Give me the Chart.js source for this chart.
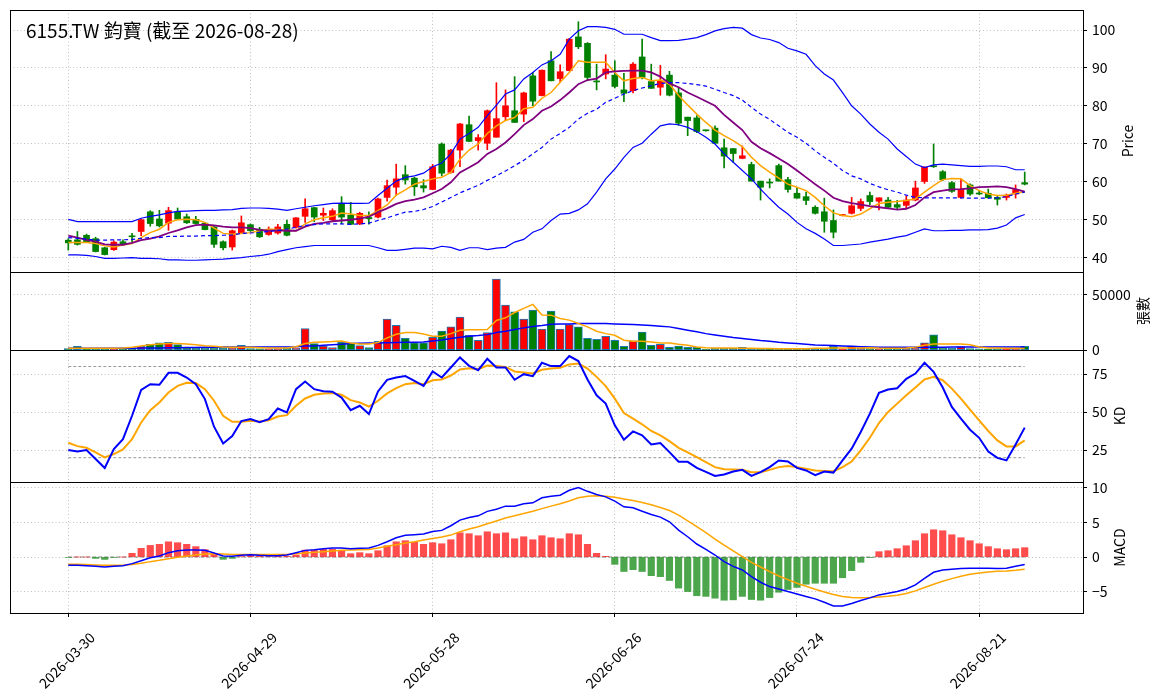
<!DOCTYPE html>
<html>
<head>
<meta charset="utf-8">
<script src="https://cdn.jsdelivr.net/npm/chart.js@4.4.1/dist/chart.umd.min.js"></script>
<style>
  html, body { margin: 0; padding: 0; background: #fff; }
  #wrap { width: 1163px; height: 698px; }
</style>
</head>
<body>
<div id="wrap"><canvas id="chart" width="1163" height="698"></canvas></div>
<script>
"use strict";

const chartTitle = "6155.TW 鈞寶 (截至 2026-08-28)";
const panelTitles = ["Price", "張數", "KD", "MACD"];

// x ticks: trading-day index -> date label
const tickPositions = [0, 20, 40, 60, 80, 100];
const tickDates = ["2026-03-30", "2026-04-29", "2026-05-28", "2026-06-26", "2026-07-24", "2026-08-21"];

const priceTicks = [40, 50, 60, 70, 80, 90, 100];
const volumeTicks = [0, 50000];
const kdTicks = [25, 50, 75];
const macdTicks = [-5, 0, 5, 10];
const kdLevels = [80, 20];

// daily candles
const opens = [44.5,44.6,45.8,44.9,42.5,42.0,44.1,45.5,46.8,52.0, 50.1,49.0,52.0,50.7,50.0,49.0,48.0,44.1,42.7,46.5,
  48.6,47.4,46.0,46.4,48.7,47.9,50.8,53.1,51.1,49.9, 54.2,51.1,48.8,50.5,50.6,55.8,58.5,61.8,60.9,58.9,
  57.9,69.9,62.4,68.3,75.0,70.8,70.1,71.7,77.1,78.7, 77.8,87.9,82.7,91.9,87.2,89.3,98.2,96.5,86.4,88.4,
  88.1,84.2,84.0,92.9,86.4,84.9,88.1,83.4,77.0,76.8, 73.5,74.1,68.9,68.7,66.1,64.5,60.1,59.7,64.2,60.5,
  56.9,56.0,53.2,52.0,49.7,51.0,51.6,52.9,56.3,54.8, 55.1,53.9,53.7,55.1,60.0,64.0,62.6,59.7,55.8,59.1,
  56.8,56.9,55.8,55.8,56.7,59.7];
const highs = [44.9,46.8,46.1,45.3,42.6,44.3,44.6,46.3,50.1,52.3, 52.4,53.2,53.0,51.4,50.8,49.2,48.2,44.3,47.2,50.9,
  48.8,47.9,48.0,48.7,49.8,50.5,55.4,53.2,53.0,52.8, 56.0,54.5,51.9,52.0,55.6,60.4,64.6,64.2,61.1,60.5,
  64.5,70.2,68.5,75.4,77.3,72.4,78.9,86.1,84.2,87.7, 83.6,88.8,89.5,94.3,90.8,97.8,102.2,96.7,91.0,93.5,
  91.9,88.6,91.4,97.6,91.0,90.7,89.1,84.7,77.0,77.4, 73.6,74.7,71.2,68.7,69.4,65.1,60.1,60.7,64.6,61.1,
  58.3,57.2,53.6,55.6,52.5,51.3,55.8,55.4,57.2,55.7, 55.8,55.0,56.2,60.1,63.9,69.9,62.9,60.0,60.7,59.4,
  57.6,58.0,56.1,56.7,59.1,62.5];
const lows = [41.9,43.2,43.9,41.4,40.6,41.8,43.2,44.1,45.7,48.2, 48.0,47.1,49.9,48.9,48.7,47.2,42.6,41.9,41.9,46.3,
  46.8,45.2,45.8,46.1,45.6,47.7,49.2,49.4,49.7,49.4, 48.8,48.6,48.6,48.7,50.4,54.8,56.4,59.3,56.3,57.2,
  57.8,61.5,62.2,63.9,70.5,68.3,68.4,71.7,76.1,75.6, 75.8,80.0,82.6,86.6,86.2,89.2,95.1,86.6,84.2,87.1,
  84.7,81.1,83.4,87.1,84.6,82.8,82.6,74.8,72.1,72.9, 73.3,70.1,63.6,65.0,66.0,60.1,55.1,58.3,60.1,57.2,
  55.6,53.9,51.4,46.6,45.1,50.9,51.4,52.3,53.9,52.5, 53.0,52.8,52.9,54.9,59.5,63.7,60.2,57.1,55.6,56.3,
  56.5,55.6,53.8,55.1,55.6,59.1];
const closes = [43.8,43.4,44.1,41.5,40.7,44.0,43.4,45.4,49.9,48.9, 48.3,52.3,50.1,49.1,48.9,47.3,43.4,42.5,47.0,49.1,
  47.0,45.4,47.4,48.0,45.8,50.4,52.8,50.6,51.6,52.3, 50.6,48.7,51.6,50.2,55.4,58.9,60.7,60.4,58.6,58.3,
  63.9,62.2,68.3,75.2,70.6,71.6,78.7,76.6,80.0,75.6, 83.4,81.2,89.4,86.6,89.0,97.6,95.6,87.5,86.3,89.7,
  85.1,83.3,91.0,87.5,84.6,86.6,82.8,75.4,76.1,73.2, 73.4,70.1,66.7,67.4,66.8,60.1,58.5,59.6,60.1,57.9,
  55.6,55.0,51.6,49.5,46.6,51.2,53.6,54.7,54.7,55.7, 53.2,53.2,55.1,58.3,63.8,63.9,60.5,57.4,57.9,56.7,
  56.7,55.7,55.3,56.4,57.9,59.3];

// price overlays
const ma5 = [43.9,43.9,43.9,43.6,43.0,42.7,43.2,43.6,45.2,46.5, 47.4,49.2,49.9,50.0,49.9,49.2,47.7,46.3,46.1,46.3,
  46.5,47.0,47.4,47.3,47.2,47.0,48.8,49.9,50.4,50.8, 51.7,51.4,51.0,51.0,52.3,53.8,56.4,57.8,59.3,60.0,
  60.7,61.1,62.4,65.9,68.3,69.9,72.7,74.7,76.1,76.9, 79.2,79.6,82.0,83.5,86.2,88.8,91.9,91.5,91.5,91.5,
  88.8,86.6,87.2,87.5,86.6,86.8,85.7,82.7,80.2,77.8, 75.6,73.6,72.1,70.8,69.2,66.4,64.2,62.5,60.9,59.3,
  58.5,57.6,55.8,53.6,51.7,51.0,50.7,51.4,52.8,54.2, 54.5,54.7,55.0,55.4,57.2,58.9,60.5,60.8,60.7,58.9,
  57.6,56.7,56.3,56.4,56.9,57.3];
const ma10 = [45.7,45.2,44.6,44.1,43.4,43.3,43.3,43.8,44.5,44.9, 45.5,46.4,47.1,47.9,48.5,48.6,48.4,48.1,47.9,47.9,
  47.7,47.2,47.0,47.1,47.0,47.0,48.1,48.8,49.1,49.5, 49.7,49.9,50.2,50.7,51.9,52.9,54.1,54.8,55.2,55.8,
  56.9,58.0,59.8,62.4,63.7,65.1,67.3,68.6,70.3,72.5, 74.9,76.5,78.7,79.8,81.5,83.5,85.7,86.8,87.2,88.8,
  89.1,89.2,89.3,89.3,88.8,87.7,85.9,84.9,83.5,82.4, 81.2,80.0,77.6,75.6,73.6,70.5,68.8,67.5,66.1,64.6,
  62.9,61.1,59.3,57.6,55.7,54.8,54.3,53.9,53.5,53.2, 52.9,52.6,52.8,53.8,55.8,57.2,57.6,57.9,58.0,58.2,
  58.5,58.6,58.7,58.5,58.0,57.3];
const ma20 = [45.2,45.0,44.8,44.5,44.5,44.6,44.6,44.7,45.0,45.2, 45.2,45.5,45.5,45.6,45.6,45.7,45.7,45.8,45.9,46.3,
  46.4,46.6,46.8,47.1,47.4,47.9,48.4,48.6,48.8,48.8, 48.8,48.7,48.8,49.0,49.7,50.4,51.2,51.9,52.1,52.6,
  53.4,54.6,55.8,57.0,58.0,59.0,60.3,61.5,62.8,64.2, 65.6,67.3,69.0,71.2,72.7,74.3,76.5,78.0,79.1,80.9,
  82.0,83.1,84.0,84.7,85.3,85.9,86.1,86.1,85.9,85.6, 85.2,84.4,83.5,82.7,81.5,79.6,77.8,76.4,74.7,73.0,
  71.7,70.1,68.1,66.4,64.8,62.9,61.5,60.7,59.5,58.6, 57.8,57.2,56.4,55.8,55.7,55.7,55.7,55.7,55.7,55.6,
  55.6,55.6,55.7,56.0,56.7,57.2];
const bbUpper = [50.0,49.4,49.4,49.4,49.4,49.4,49.4,49.4,50.3,50.8, 51.2,51.7,52.1,52.2,52.3,52.4,52.4,52.5,52.6,52.9,
  53.0,53.0,52.9,52.7,52.4,52.8,53.2,53.6,53.9,54.2, 54.3,54.2,54.2,54.3,56.3,58.2,60.1,61.1,61.5,62.2,
  63.9,64.9,67.3,71.2,72.7,74.3,77.4,80.2,83.1,84.2, 87.1,88.8,90.8,91.9,93.6,97.6,99.8,100.9,100.9,100.7,
  100.2,98.9,98.9,98.9,98.0,97.2,97.2,97.3,97.6,98.0, 98.8,99.8,100.4,100.7,100.5,98.8,97.9,97.5,96.7,95.2,
  94.5,93.6,90.6,88.4,86.8,83.5,80.0,77.8,75.2,73.0, 71.2,68.6,66.6,64.6,63.7,64.4,64.6,64.4,64.2,64.0,
  64.0,64.1,64.1,63.9,63.1,63.1];
const bbLower = [40.6,40.6,40.5,40.2,39.7,39.7,39.8,39.9,39.7,39.7, 39.6,39.3,39.3,39.2,39.2,39.3,39.4,39.5,39.7,39.9,
  40.2,40.4,40.8,41.5,42.0,42.5,42.8,43.1,43.1,43.1, 43.1,43.1,43.1,43.1,42.5,41.8,41.8,42.1,42.4,42.4,
  42.2,42.9,42.6,41.8,42.5,42.5,42.0,42.4,42.6,44.0, 44.7,46.6,47.5,49.7,51.4,51.6,52.5,54.1,57.2,60.7,
  63.3,66.4,69.0,70.1,72.5,74.7,75.2,75.0,74.3,73.2, 71.7,69.9,67.3,65.1,62.9,60.7,58.0,55.5,53.2,51.4,
  49.2,47.5,46.3,44.8,43.1,43.1,43.3,43.5,44.0,44.4, 44.8,45.3,45.7,46.6,47.5,47.0,47.0,47.1,47.1,47.2,
  47.2,47.3,47.7,48.5,50.4,51.3];

// volume (張)
const volumes = [1200,3300,900,1100,1300,1000,1200,1600,3300,5100, 6400,7000,4800,2100,1800,1500,1700,1400,1600,4200,
  1200,1100,1000,1300,1500,1800,19400,5800,3600,2100, 7000,6000,3900,2100,7900,27900,22400,10600,6400,6400,
  11500,17000,20900,29700,13300,8800,15800,64200,40600,34500, 27900,36100,18800,35100,18800,23000,20900,10600,9700,12400,
  8800,3300,8200,16100,4200,5100,2400,3600,2400,2400, 600,1800,1800,1500,2400,1500,1200,900,1300,1100,
  1000,1200,1400,1300,3300,800,3600,1400,1200,1000, 1100,1300,1500,1800,6400,13600,1800,1500,3000,1200,
  1000,900,1000,800,1100,3300];
const volMa5 = [1500,1500,1500,1500,1500,1500,1800,2400,3600,4800, 5500,5800,5800,5500,4800,3900,3300,2700,2400,2400,
  2400,2100,1800,1800,1800,3000,5800,7000,7300,7600, 8200,6400,5500,5500,6700,10900,14200,15800,15800,14500,
  12400,12400,14800,17900,18200,18200,18500,26700,29100,33900, 37600,41200,31600,31500,28500,27000,23900,20900,17000,14800,
  13300,8800,7900,7900,7300,6400,6400,5200,4200,2700, 2100,1800,1800,1700,1600,1500,1400,1300,1200,1200,
  1200,1200,1500,1500,1700,1800,1800,1900,2000,1700, 1600,1500,1700,2600,4300,5400,5500,5500,5400,4700,
  2700,1800,1700,1600,1500,1400];
const volMa20 = [1500,1500,1500,1500,1500,1500,1500,1600,1700,1800, 1900,2000,2100,2200,2300,2400,2500,2600,2700,2700,
  2700,2700,2700,2700,2700,3000,3600,3600,4200,4800, 5200,5800,6100,6300,6400,6600,6800,7000,7000,7300,
  8200,9100,10300,11500,12400,13000,13900,15800,17000,18500, 20000,21200,22100,23300,23600,23600,23900,23900,23900,23900,
  23600,23300,23000,22700,22100,21500,20900,19400,17900,16400, 14800,13600,12400,11200,10300,9400,8500,7900,7000,6400,
  5800,5200,4500,4200,4000,3600,3300,3000,2700,2400, 2400,2400,2400,2400,2400,2500,2500,2600,2700,2700,
  2700,2700,2700,2700,2700,2700];

// KD
const kLine = [25,24.1,25,19.1,13.2,25.7,32.2,47.6,64.7,68.4, 68,75.9,75.9,72.8,68.4,58.6,40.4,29.4,34.2,44.1,
  45.4,43.4,45.4,52.4,49.8,65.1,70.2,65.1,63.8,63.4, 59.6,51.3,54.2,48.7,63.6,71.3,72.8,73.7,70.6,67.3,
  76.8,72.8,79.4,86,80.5,77.6,85.1,79.4,79.4,71.3, 75,73.7,82.5,80.3,80.3,86.9,83.6,71.5,61.1,55.6,
  41.3,31.8,37.3,34.7,28.7,29.6,23.7,17.3,17.3,13.3, 10.7,8,8.9,10.9,12,8,10.5,13.8,18.2,17.5,
  13.3,11.6,8.5,10.9,10.2,18.2,25.9,36.9,49,62.7, 64.9,65.7,71.9,75.4,82.5,76.5,66.2,53.4,45.7,38.4,
  33.1,24.1,19.9,18.2,28.7,39.8];
const dLine = [29.8,27.6,26.5,23.5,20.2,22.4,25.4,32.2,43.2,51.3, 56.4,62.9,67.3,69.3,69.1,65.1,57.5,47.6,43.6,43.6,
  44.3,43.9,44.7,47.1,48,54.2,59,61.4,62.3,62.5, 61.4,57.9,56.4,53.7,57.5,62.3,65.8,68.4,69.1,68.4,
  71,71.5,74.1,78.1,78.9,78.3,80.7,80.3,79.8,76.8, 76.1,75.4,77.9,78.7,79.2,81.4,82,78.7,73.2,67.1,
  58.9,49.4,45.7,42,37.6,34.7,30.9,26.5,23.5,20.4, 17.1,13.8,12.4,12.2,12,10.5,10.5,12,13.8,14.6,
  13.8,12.7,11.6,11.3,11.1,13.8,17.5,24.8,33.1,42.8, 50.1,55.6,61.1,66.2,71.5,73.2,71,65.5,58.9,51.7,
  44.6,37.6,31.4,27.4,27.4,31.4];

// MACD
const macdDif = [-1.2,-1.2,-1.25,-1.35,-1.44,-1.35,-1.25,-0.96,-0.53,-0.1, 0.14,0.63,0.91,1.0,1.0,0.96,0.58,0.14,0.1,0.24,
  0.34,0.24,0.19,0.19,0.29,0.63,0.96,1.06,1.2,1.3, 1.3,1.2,1.25,1.3,1.68,2.2,2.79,3.13,3.22,3.32,
  3.7,3.85,4.52,5.34,5.72,5.96,6.6,6.9,7.36,7.36, 7.7,7.84,8.56,8.8,8.94,9.66,10.05,9.5,9.04,8.7,
  8.08,7.26,7.12,6.63,6.15,5.77,5.1,3.9,2.93,1.88, 1.1,0.29,-0.67,-1.35,-1.88,-2.84,-3.65,-4.28,-4.62,-5.0,
  -5.34,-5.72,-6.06,-6.54,-7.07,-7.07,-6.73,-6.3,-5.91,-5.48, -5.24,-5.0,-4.62,-4.04,-3.08,-2.21,-1.88,-1.78,-1.68,-1.63,
  -1.63,-1.63,-1.68,-1.63,-1.35,-1.1];
const macdSignal = [-1.06,-1.06,-1.1,-1.15,-1.2,-1.2,-1.2,-1.1,-0.91,-0.67, -0.48,-0.24,-0.05,0.14,0.29,0.43,0.48,0.43,0.38,0.38,
  0.38,0.38,0.38,0.38,0.38,0.48,0.58,0.67,0.77,0.87, 0.96,1.0,1.06,1.1,1.3,1.54,1.78,2.02,2.21,2.45,
  2.69,2.88,3.17,3.65,4.04,4.38,4.8,5.2,5.63,5.96, 6.3,6.63,7.0,7.36,7.7,8.1,8.56,8.8,8.85,8.8,
  8.65,8.4,8.17,7.88,7.55,7.16,6.73,6.06,5.24,4.38, 3.51,2.6,1.73,0.87,0.05,-0.77,-1.44,-2.12,-2.74,-3.27,
  -3.8,-4.23,-4.66,-5.05,-5.43,-5.72,-5.87,-5.91,-5.87,-5.77, -5.67,-5.53,-5.29,-4.9,-4.42,-3.94,-3.51,-3.13,-2.79,-2.5,
  -2.31,-2.16,-2.07,-2.02,-1.92,-1.78];
const macdHist = [-0.05,0,0,-0.2,-0.35,-0.05,0,0.53,1.25,1.68, 1.83,2.2,2.07,1.83,1.5,1.06,0.38,-0.34,-0.2,0.05,
  0.34,0.1,0.05,0.1,0.1,0.29,1.0,1.0,1.1,1.1, 0.87,0.48,0.63,0.48,0.91,1.63,2.2,2.36,2.12,1.83,
  2.07,1.92,2.5,3.5,3.37,3.08,3.65,3.37,3.5,2.64, 2.93,2.5,3.08,2.79,2.64,3.37,3.22,1.83,0.53,0.1,
  -1.06,-2.1,-1.83,-2.1,-2.7,-2.84,-3.4,-4.5,-5.0,-5.6, -5.7,-5.96,-6.25,-6.2,-5.7,-6.15,-6.25,-5.87,-5.1,-4.7,
  -4.4,-3.94,-3.8,-3.8,-3.8,-3.0,-1.97,-0.77,-0.05,0.77, 0.91,1.2,1.63,2.36,3.37,3.94,3.8,3.22,2.79,2.36,
  1.92,1.5,1.2,1.06,1.2,1.35];

// ---------------------------------------------------------------------------

const lastIndex = closes.length - 1;
const pts = (arr) => arr.map((v, i) => ({ x: i, y: v }));
const flat = (v) => [{ x: 0, y: v }, { x: lastIndex, y: v }];
const candleColors = closes.map((c, i) => (c > opens[i] ? "#ff0000" : "#008000"));
const histColors = macdHist.map((v) => (v >= 0 ? "rgba(255,0,0,0.7)" : "rgba(0,128,0,0.7)"));
const fmtTick = (v) => (v < 0 ? "\u2212" + Math.abs(v) : String(v));

Chart.defaults.font.family = "'Noto Sans CJK TC', 'Noto Sans', sans-serif";
Chart.defaults.font.size = 14;
Chart.defaults.color = "#000";

function line(data, color, width, axis, dash, order) {
  return {
    type: "line", data: data, borderColor: color, borderWidth: width,
    borderDash: dash || [], pointRadius: 0, fill: false, tension: 0,
    yAxisID: axis, order: order || 1,
  };
}

function bars(data, colors, thickness, axis, order, extra) {
  return Object.assign({
    type: "bar", data: data, backgroundColor: colors, barThickness: thickness,
    grouped: false, borderWidth: 0, yAxisID: axis, order: order,
  }, extra || {});
}

function yAxis(weight, min, max, ticks) {
  return {
    type: "linear", position: "right", stack: "panels", stackWeight: weight,
    min: min, max: max, beginAtZero: false,
    grid: { color: "#b0b0b0", lineWidth: 0.8, tickColor: "#000", tickLength: 4, tickWidth: 1, tickBorderDash: [] },
    border: { display: false, dash: [1, 2.5] },
    afterBuildTicks: (s) => { s.ticks = ticks.map((v) => ({ value: v })); },
    afterFit: (s) => { s.width = 80; s.paddingTop = 0; s.paddingBottom = 0; },
    ticks: { autoSkip: false, padding: 5, callback: fmtTick },
  };
}

// frame, panel separators, rotated axis labels and the title
const panelDecor = {
  id: "panelDecor",
  afterDraw(chart) {
    const ctx = chart.ctx;
    const area = chart.chartArea;
    const ids = ["yPrice", "yVol", "yKD", "yMACD"];
    const left = Math.round(area.left) + 0.5;
    const right = Math.round(area.right) + 0.5;
    ctx.save();
    ctx.strokeStyle = "#000";
    ctx.lineWidth = 1;
    ctx.setLineDash([]);
    ctx.strokeRect(left, Math.round(area.top) + 0.5, right - left, Math.round(area.bottom) - Math.round(area.top));
    ids.slice(1).forEach((id) => {
      const y = Math.round(chart.scales[id].top) + 0.5;
      ctx.beginPath();
      ctx.moveTo(left, y);
      ctx.lineTo(right, y);
      ctx.stroke();
    });

    ctx.fillStyle = "#000";
    ctx.font = "14px 'Noto Sans CJK TC'";
    ctx.textAlign = "center";
    ctx.textBaseline = "middle";
    ids.forEach((id, k) => {
      const s = chart.scales[id];
      const w = Math.max(...s.ticks.map((t) => ctx.measureText(String(t.label)).width));
      const x = area.right + 4 + 5 + w + 4 + 8;
      ctx.save();
      ctx.translate(x, (s.top + s.bottom) / 2);
      ctx.rotate(-Math.PI / 2);
      ctx.fillText(panelTitles[k], 0, 0);
      ctx.restore();
    });

    ctx.font = "19px 'Noto Sans CJK TC'";
    ctx.textAlign = "left";
    ctx.fillText(chartTitle, area.left + 16, chart.scales.yPrice.top + 21);
    ctx.restore();
  },
};

new Chart(document.getElementById("chart"), {
  type: "bar",
  data: {
    datasets: [
      // price panel
      line(pts(bbUpper), "#0000ff", 1.2, "yPrice"),
      line(pts(bbLower), "#0000ff", 1.2, "yPrice"),
      line(pts(ma20), "#0000ff", 1.2, "yPrice", [4, 3]),
      line(pts(ma10), "#800080", 1.8, "yPrice"),
      line(pts(ma5), "#ffa500", 1.5, "yPrice"),
      bars(opens.map((o, i) => ({ x: i, y: [o, closes[i]] })), candleColors, 6, "yPrice", 2, { minBarLength: 1 }),
      bars(lows.map((l, i) => ({ x: i, y: [l, highs[i]] })), candleColors, 1, "yPrice", 3),
      // volume panel
      line(pts(volMa5), "#ffa500", 1.5, "yVol"),
      line(pts(volMa20), "#0000ff", 1.5, "yVol"),
      bars(pts(volumes), candleColors, 8, "yVol", 3, { borderColor: "#1f77b4", borderWidth: 1, borderSkipped: false }),
      // KD panel
      line(pts(kLine), "#0000ff", 2, "yKD"),
      line(pts(dLine), "#ffa500", 2, "yKD"),
      line(flat(kdLevels[0]), "#999999", 1, "yKD", [3, 2], 5),
      line(flat(kdLevels[1]), "#999999", 1, "yKD", [3, 2], 5),
      // MACD panel
      line(pts(macdDif), "#0000ff", 1.5, "yMACD"),
      line(pts(macdSignal), "#ffa500", 1.5, "yMACD"),
      bars(pts(macdHist), histColors, 6.5, "yMACD", 3),
      line(flat(0), "#888888", 1, "yMACD", [4, 2], 5),
    ],
  },
  options: {
    responsive: false,
    devicePixelRatio: 1,
    animation: false,
    events: [],
    layout: { padding: { left: 10, top: 10, right: 0, bottom: 0 } },
    plugins: { legend: { display: false }, tooltip: { enabled: false } },
    scales: {
      x: {
        type: "linear", min: -6.4, max: 111.4, offset: false,
        grid: { offset: false, color: "#b0b0b0", lineWidth: 0.8, tickColor: "#000", tickLength: 4, tickWidth: 1, tickBorderDash: [] },
        border: { display: false, dash: [1, 2.5] },
        afterBuildTicks: (s) => { s.ticks = tickPositions.map((v) => ({ value: v })); },
        afterFit: (s) => { s.height = 85; },
        ticks: {
          autoSkip: false, minRotation: 45, maxRotation: 45, padding: 12, labelOffset: 24,
          callback: (v) => tickDates[tickPositions.indexOf(v)],
        },
      },
      yPrice: yAxis(262, 36.1, 105.3, priceTicks),
      yVol: yAxis(78, 0, 70500, volumeTicks),
      yKD: yAxis(132, 4.0, 90.9, kdTicks),
      yMACD: yAxis(131, -8.1, 10.85, macdTicks),
    },
  },
  plugins: [panelDecor],
});
</script>
</body>
</html>
